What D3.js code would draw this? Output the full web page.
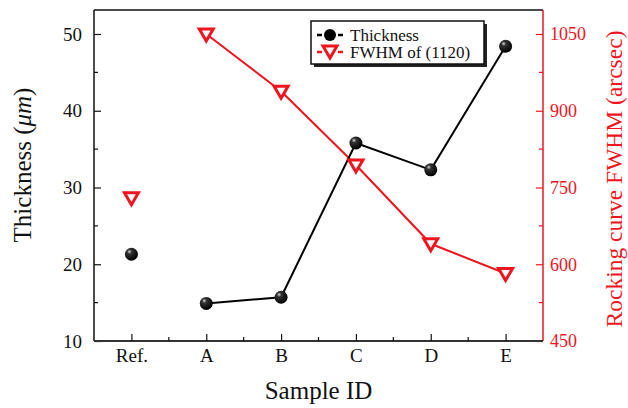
<!DOCTYPE html>
<html>
<head>
<meta charset="utf-8">
<script src="https://cdn.jsdelivr.net/npm/d3@7"></script>
<style>
body { margin: 0; background: #fff; }
</style>
</head>
<body>
<div id="chart"></div>
<script>
// sample ids and the two measured series
var samples = ["Ref.", "A", "B", "C", "D", "E"];
var thickness = [21.3, 14.9, 15.7, 35.8, 32.3, 48.4];
var fwhm = [730, 1050, 938, 794, 640, 582];
var leftTicks = [10, 20, 30, 40, 50];
var rightTicks = [450, 600, 750, 900, 1050];

var w = 628, h = 408;
var mLeft = 94, mRight = 543, mTop = 10, mBottom = 341;
var red = "#f0141e";
var serif = "'Liberation Serif', 'Times New Roman', serif";

var svg = d3.select("#chart").append("svg")
    .attr("width", w)
    .attr("height", h)
    .attr("font-family", serif);

var defs = svg.append("defs");
var grad = defs.append("radialGradient")
    .attr("id", "ball")
    .attr("cx", "0.35").attr("cy", "0.3").attr("r", "0.7");
grad.append("stop").attr("offset", "0").attr("stop-color", "#d8d8d8");
grad.append("stop").attr("offset", "0.25").attr("stop-color", "#333");
grad.append("stop").attr("offset", "1").attr("stop-color", "#000");

var x = d3.scalePoint().domain(samples).range([mLeft, mRight]).padding(0.5);
var yL = d3.scaleLinear().domain([10, 50]).range([mBottom, mBottom - 4 * 76.75]);
var yR = d3.scaleLinear().domain([450, 1050]).range([mBottom, mBottom - 4 * 76.75]);

// frame top
svg.append("line")
    .attr("x1", mLeft).attr("x2", mRight).attr("y1", mTop).attr("y2", mTop)
    .attr("stroke", "#111").attr("stroke-width", 1.5);

// left axis
var gL = svg.append("g").attr("transform", "translate(" + mLeft + ",0)")
    .call(d3.axisLeft(yL).tickValues(leftTicks).tickSize(-7).tickPadding(12));
gL.attr("font-family", serif);
gL.select(".domain").attr("d", "M0," + mTop + "V" + mBottom).attr("stroke", "#111").attr("stroke-width", 1.5);
gL.selectAll(".tick line").attr("stroke", "#111").attr("stroke-width", 1.2);
gL.selectAll(".tick text").attr("font-size", 19).attr("fill", "#111");
gL.selectAll(".minor").data([15, 25, 35, 45]).enter().append("line")
    .attr("x1", 0).attr("x2", 4)
    .attr("y1", function(d){ return yL(d) }).attr("y2", function(d){ return yL(d) })
    .attr("stroke", "#111").attr("stroke-width", 1.2);

// right axis
var gR = svg.append("g").attr("transform", "translate(" + mRight + ",0)")
    .call(d3.axisRight(yR).tickValues(rightTicks).tickFormat(d3.format("d")).tickSize(-7).tickPadding(7));
gR.attr("font-family", serif);
gR.select(".domain").attr("d", "M0," + mTop + "V" + mBottom).attr("stroke", red).attr("stroke-width", 1.5);
gR.selectAll(".tick line").attr("stroke", red).attr("stroke-width", 1.2);
gR.selectAll(".tick text").attr("font-size", 18).attr("fill", red);
gR.selectAll(".minor").data([525, 675, 825, 975]).enter().append("line")
    .attr("x1", 0).attr("x2", -4)
    .attr("y1", function(d){ return yR(d) }).attr("y2", function(d){ return yR(d) })
    .attr("stroke", red).attr("stroke-width", 1.2);

// bottom axis
var gB = svg.append("g").attr("transform", "translate(0," + mBottom + ")")
    .call(d3.axisBottom(x).tickSize(-7).tickPadding(8));
gB.attr("font-family", serif);
gB.select(".domain").attr("d", "M" + mLeft + ",0H" + mRight).attr("stroke", "#333").attr("stroke-width", 1.8);
gB.selectAll(".tick line").attr("stroke", "#111").attr("stroke-width", 1.2);
gB.selectAll(".tick text").attr("font-size", 19).attr("fill", "#111");
var step = x.step();
gB.selectAll(".minor").data(samples.slice(0, -1)).enter().append("line")
    .attr("x1", function(d){ return x(d) + step / 2 }).attr("x2", function(d){ return x(d) + step / 2 })
    .attr("y1", 0).attr("y2", -4)
    .attr("stroke", "#111").attr("stroke-width", 1.2);

// axis titles
svg.append("text")
    .attr("transform", "translate(31,165) rotate(-90)")
    .attr("text-anchor", "middle")
    .attr("font-size", 25)
    .attr("fill", "#111")
    .html('Thickness (<tspan font-style="italic">μm</tspan>)');

svg.append("text")
    .attr("transform", "translate(622,179) rotate(-90)")
    .attr("text-anchor", "middle")
    .attr("font-size", 23.5)
    .attr("fill", red)
    .text("Rocking curve FWHM (arcsec)");

svg.append("text")
    .attr("x", (mLeft + mRight) / 2)
    .attr("y", 399)
    .attr("text-anchor", "middle")
    .attr("font-size", 25)
    .attr("fill", "#111")
    .text("Sample ID");

// FWHM series: A..E connected, Ref. alone
var lineR = d3.line()
    .x(function(d){ return x(d.s) })
    .y(function(d){ return yR(d.v) });
var lineL = d3.line()
    .x(function(d){ return x(d.s) })
    .y(function(d){ return yL(d.v) });

var fData = samples.map(function(s, i){ return {s: s, v: fwhm[i]} });
var tData = samples.map(function(s, i){ return {s: s, v: thickness[i]} });

svg.append("path")
    .datum(fData.slice(1))
    .attr("d", lineR)
    .attr("fill", "none")
    .attr("stroke", red)
    .attr("stroke-width", 2);

svg.append("path")
    .datum(tData.slice(1))
    .attr("d", lineL)
    .attr("fill", "none")
    .attr("stroke", "#000")
    .attr("stroke-width", 2);

function tri(cx, cy) {
    return "M" + (cx - 7) + "," + (cy - 5) + "L" + (cx + 7) + "," + (cy - 5) + "L" + cx + "," + (cy + 7) + "Z";
}

svg.selectAll("path.tri").data(fData).enter().append("path")
    .attr("class", "tri")
    .attr("d", function(d){ return tri(x(d.s), yR(d.v)) })
    .attr("fill", "#fff")
    .attr("stroke", red)
    .attr("stroke-width", 3);

svg.selectAll("circle.ball").data(tData).enter().append("circle")
    .attr("class", "ball")
    .attr("cx", function(d){ return x(d.s) })
    .attr("cy", function(d){ return yL(d.v) })
    .attr("r", 6.5)
    .attr("fill", "url(#ball)");

// legend
var lg = svg.append("g").attr("transform", "translate(311,21)");
lg.append("rect").attr("x", 3).attr("y", 3).attr("width", 173).attr("height", 43).attr("fill", "#222");
lg.append("rect").attr("x", 0).attr("y", 0).attr("width", 173).attr("height", 43)
    .attr("fill", "#fff").attr("stroke", "#111").attr("stroke-width", 1.5);

lg.append("path").attr("d", "M6,14H11M27,14H32").attr("stroke", "#000").attr("stroke-width", 2.5);
lg.append("circle").attr("cx", 19).attr("cy", 14).attr("r", 6).attr("fill", "#000");
lg.append("text").attr("x", 39).attr("y", 20).attr("font-size", 17).attr("fill", "#111").text("Thickness");

lg.append("path").attr("d", "M6,31H11M27,31H32").attr("stroke", red).attr("stroke-width", 2.5);
lg.append("path").attr("d", tri(19, 30)).attr("fill", "#fff").attr("stroke", red).attr("stroke-width", 3);
lg.append("text").attr("x", 39).attr("y", 37).attr("font-size", 17).attr("fill", "#111").text("FWHM of (1120)");
</script>
</body>
</html>
